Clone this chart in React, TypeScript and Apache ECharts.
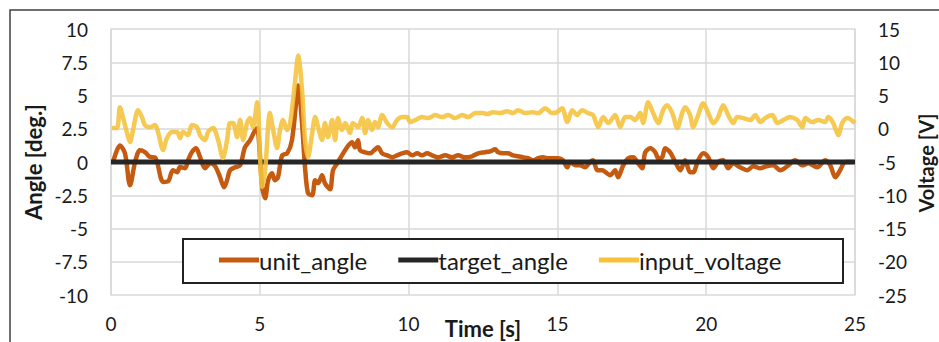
import React, { useEffect, useRef } from "react";
import * as echarts from "echarts";

const timeTicks = [0, 5, 10, 15, 20, 25];

const angleTime = [
  0.07, 0.3, 0.47, 0.64, 0.81, 0.97, 1.14, 1.31, 1.48, 1.75, 1.92, 2.08, 2.22, 2.32, 2.49, 2.59, 2.72, 2.86, 2.99,
  3.16, 3.33, 3.5, 3.66, 3.8, 3.9, 4.0, 4.17, 4.34, 4.5, 4.67, 4.84, 4.91, 5.08, 5.18, 5.28, 5.41, 5.51, 5.61, 5.75,
  5.92, 6.08, 6.25, 6.29, 6.42, 6.52, 6.62, 6.76, 6.86, 6.96, 7.09, 7.19, 7.36, 7.46, 7.6, 7.8, 7.93, 8.1, 8.2, 8.3,
  8.37, 8.54, 8.71, 8.84, 8.97, 9.11, 9.28, 9.45, 9.61, 9.78, 9.95, 10.12, 10.29, 10.45, 10.62, 10.79, 10.99, 11.23,
  11.46, 11.66, 11.9, 12.13, 12.34, 12.57, 12.74, 12.91, 13.01, 13.18, 13.34, 13.51, 13.68, 13.85, 14.02, 14.18,
  14.35, 14.52, 14.69, 14.86, 15.03, 15.19, 15.33, 15.43, 15.6, 15.76, 15.93, 16.1, 16.2, 16.34, 16.5, 16.67, 16.77,
  16.94, 17.04, 17.21, 17.38, 17.55, 17.71, 17.85, 17.95, 18.12, 18.29, 18.39, 18.52, 18.62, 18.79, 18.96, 19.13,
  19.29, 19.46, 19.56, 19.73, 19.9, 20.07, 20.24, 20.4, 20.57, 20.74, 20.91, 21.14, 21.38, 21.58, 21.82, 22.02,
  22.25, 22.49, 22.72, 22.99, 23.23, 23.43, 23.73, 24.0, 24.17, 24.34, 24.5, 24.67, 24.94,
];
const unitAngle = [
  0, 1.25, 0.65, -1.75, 0, 0.88, 0.75, 0.38, 0.35, -1.5, -1.45, -0.62, -0.77, -0.38, -0.47, 0.13, 0.75, 1.03, 0.38,
  -0.47, -0.1, -0.32, -1.12, -1.9, -1.37, -0.62, -0.4, -0.25, 1.1, 1.63, 2.38, 2.53, -1.9, -2.72, -1.37, -0.85, -1.37,
  -1.15, 0.5, 0.65, 1.63, 5.15, 5.75, 2.9, -0.4, -2.35, -2.5, -1.37, -1.6, -1.0, -1.6, -2.05, -0.62, -0.1, 0.65, 1.1,
  1.48, 1.1, 1.63, 0.88, 0.73, 0.65, 0.88, 1.1, 0.65, 0.5, 0.35, 0.5, 0.65, 0.73, 0.5, 0.65, 0.5, 0.65, 0.5, 0.35,
  0.5, 0.35, 0.5, 0.35, 0.43, 0.65, 0.73, 0.8, 0.95, 0.73, 0.65, 0.65, 0.5, 0.43, 0.35, 0.28, 0.13, 0.28, 0.35, 0.28,
  0.28, 0.28, 0.13, -0.4, 0, -0.25, -0.25, -0.4, 0, 0.13, -0.62, -0.62, -0.85, -1.0, -0.62, -1.15, -0.25, 0.28, 0.35,
  -0.1, -0.47, 0.73, 1.03, 0.73, 0.28, 0.35, 1.03, 0.73, 0, -0.62, 0.13, -0.77, -0.77, 0.13, 0.65, 0.35, -0.47, 0,
  0.13, -0.47, -0.1, -0.4, -0.62, -0.32, -0.47, -0.32, -0.25, -0.62, -0.32, 0.13, -0.25, -0.1, -0.4, 0.13, -0.25,
  -1.15, -0.62, 0, 0,
];

const targetTime = [0, 25];
const targetAngle = [0, 0];

const voltTime = [
  0.03, 0.2, 0.3, 0.4, 0.54, 0.64, 0.74, 0.91, 1.04, 1.14, 1.31, 1.48, 1.58, 1.75, 1.88, 2.05, 2.22, 2.32, 2.42, 2.59,
  2.72, 2.89, 2.99, 3.16, 3.26, 3.43, 3.6, 3.76, 3.9, 4.0, 4.1, 4.24, 4.34, 4.44, 4.57, 4.67, 4.77, 4.91, 5.01, 5.08,
  5.18, 5.34, 5.45, 5.58, 5.68, 5.78, 5.92, 6.02, 6.18, 6.29, 6.42, 6.52, 6.62, 6.76, 6.86, 6.96, 7.09, 7.19, 7.29,
  7.43, 7.53, 7.63, 7.76, 7.87, 8.03, 8.13, 8.3, 8.44, 8.54, 8.64, 8.77, 8.87, 8.97, 9.11, 9.28, 9.45, 9.61, 9.78,
  9.95, 10.05, 10.22, 10.45, 10.66, 10.89, 11.13, 11.33, 11.56, 11.8, 12.0, 12.24, 12.5, 12.64, 12.84, 13.08, 13.31,
  13.51, 13.68, 13.92, 14.15, 14.35, 14.59, 14.82, 14.99, 15.16, 15.33, 15.5, 15.66, 15.83, 16.03, 16.2, 16.37,
  16.54, 16.71, 16.94, 17.11, 17.28, 17.45, 17.61, 17.78, 17.88, 18.05, 18.22, 18.39, 18.55, 18.69, 18.86, 19.03,
  19.19, 19.29, 19.46, 19.56, 19.73, 19.9, 20.07, 20.24, 20.4, 20.57, 20.74, 20.91, 21.04, 21.24, 21.48, 21.65,
  21.82, 21.98, 22.22, 22.39, 22.59, 22.82, 23.06, 23.23, 23.33, 23.56, 23.76, 24.0, 24.1, 24.27, 24.44, 24.57,
  24.74, 25.0,
];
const inputVoltage = [
  0.1, 0.1, 3.25, 1.75, -0.65, -2.0, -0.2, 2.8, 1.75, 0.55, 0.25, 0.55, -0.5, -3.2, -1.4, -0.5, -0.5, -1.4, -0.5,
  -0.95, 0.55, 0.25, -0.95, -1.7, -0.5, 0.1, -1.7, -4.4, -1.7, 0.85, 0.85, -1.25, 1.3, -1.7, 0.85, 1.6, 0.25, 4.0,
  -4.25, -8.75, -6.2, 2.35, -0.2, -2.9, -0.2, 1.3, -0.2, 0.85, 6.85, 11.0, 5.8, -1.7, -4.25, -0.65, 1.75, 0.25, -1.7,
  0.85, -1.25, 1.3, -1.7, 1.6, -0.2, 0.85, -0.65, 0.85, 0.25, 1.6, -0.65, 1.3, -0.2, 1.0, 0.25, 2.05, 0.85, 0.25,
  1.3, 1.75, 1.75, 1.0, 1.3, 1.75, 1.6, 2.05, 1.75, 2.05, 1.6, 2.05, 1.75, 2.35, 2.35, 2.2, 2.5, 2.35, 2.65, 2.35,
  2.8, 2.35, 2.5, 2.35, 3.1, 2.35, 2.5, 3.1, 1.0, 2.8, 2.05, 2.8, 2.35, 2.05, 0.25, 1.75, 0.85, 2.05, 0.25, 1.75,
  1.75, 1.3, 2.35, 0.85, 4.0, 2.35, 0.85, 2.8, 3.55, 2.35, 0.1, 2.35, 3.25, 2.05, 0.25, 2.05, 3.85, 2.35, 0.85, 1.75,
  3.55, 2.05, 0.85, 1.75, 1.6, 1.3, 2.05, 1.0, 1.6, 2.05, 0.85, 1.3, 1.75, 1.3, 0.25, 1.6, 1.0, 1.3, 1.0, 1.75, 0.85,
  -0.95, 0.85, 1.6, 0.85,
];

const FONT = "Lato, 'Open Sans', sans-serif";

function pairs(t: number[], v: number[]) {
  return t.map((x, i) => [x, v[i]]);
}

export default function App() {
  const ref = useRef<HTMLDivElement>(null);
  useEffect(() => {
    if (!ref.current) return;
    const chart = echarts.init(ref.current, undefined, { renderer: "svg" });
    const grid = "#d9d9d9";
    chart.setOption({
      animation: false,
      backgroundColor: "#ffffff",
      grid: { left: 111, right: 84, top: 29, bottom: 47, containLabel: false },
      xAxis: {
        type: "value",
        min: timeTicks[0],
        max: timeTicks[timeTicks.length - 1],
        interval: 5,
        axisLine: { show: true, lineStyle: { color: grid, width: 1.5 } },
        axisTick: { show: false },
        splitLine: { show: true, lineStyle: { color: grid, width: 1.5 } },
        axisLabel: { fontFamily: FONT, fontSize: 19, color: "#1a1a1a", margin: 19 },
      },
      yAxis: [
        {
          type: "value",
          min: -10,
          max: 10,
          interval: 2.5,
          position: "left",
          axisLine: { show: true, lineStyle: { color: grid, width: 1.5 } },
          axisTick: { show: false },
          splitLine: { show: true, lineStyle: { color: grid, width: 1.5 } },
          axisLabel: { fontFamily: FONT, fontSize: 19, color: "#1a1a1a", margin: 23 },
        },
        {
          type: "value",
          min: -25,
          max: 15,
          interval: 5,
          position: "right",
          axisLine: { show: true, lineStyle: { color: grid, width: 1.5 } },
          axisTick: { show: false },
          splitLine: { show: false },
          axisLabel: { fontFamily: FONT, fontSize: 19, color: "#1a1a1a", margin: 23 },
        },
      ],
      legend: {
        left: 214,
        top: 243,
        z: 30,
        itemWidth: 40,
        itemHeight: 5,
        itemGap: 31,
        icon: "rect",
        textStyle: { fontFamily: FONT, fontSize: 24, color: "#1a1a1a", padding: [0, 0, 0, -5] },
        data: ["unit_angle", "target_angle", "input_voltage"],
      },
      graphic: [
        {
          type: "rect",
          shape: { x: 10, y: 10, width: 1000, height: 400 },
          style: { fill: "none", stroke: "#404040", lineWidth: 1.5 },
          silent: true,
        },
        {
          type: "rect",
          shape: { x: 183, y: 239, width: 660, height: 44 },
          style: { fill: "#ffffff", stroke: "#222", lineWidth: 2 },
          z: 6,
          silent: true,
        },
        {
          type: "text",
          x: 33,
          y: 162,
          rotation: Math.PI / 2,
          style: {
            text: "Angle [deg.]",
            fontFamily: FONT,
            fontSize: 22,
            fontWeight: "bold",
            fill: "#1a1a1a",
            align: "center",
            verticalAlign: "middle",
          },
        },
        {
          type: "text",
          x: 926,
          y: 163,
          rotation: Math.PI / 2,
          style: {
            text: "Voltage [V]",
            fontFamily: FONT,
            fontSize: 20,
            fontWeight: "bold",
            fill: "#1a1a1a",
            align: "center",
            verticalAlign: "middle",
          },
        },
        {
          type: "text",
          x: 483,
          y: 328,
          style: {
            text: "Time [s]",
            fontFamily: FONT,
            fontSize: 22,
            fontWeight: "bold",
            fill: "#1a1a1a",
            align: "center",
            verticalAlign: "middle",
          },
        },
      ],
      series: [
        {
          name: "unit_angle",
          type: "line",
          yAxisIndex: 0,
          data: pairs(angleTime, unitAngle),
          showSymbol: false,
          smooth: 0.3,
          color: "#C55A11",
          lineStyle: { color: "#C55A11", width: 4.5 },
          z: 2,
        },
        {
          name: "target_angle",
          type: "line",
          yAxisIndex: 0,
          data: pairs(targetTime, targetAngle),
          showSymbol: false,
          color: "#262626",
          lineStyle: { color: "#262626", width: 5 },
          z: 3,
        },
        {
          name: "input_voltage",
          type: "line",
          yAxisIndex: 1,
          data: pairs(voltTime, inputVoltage),
          showSymbol: false,
          smooth: 0.3,
          color: "#F5C23A",
          lineStyle: { color: "#F5C23A", width: 4.5, opacity: 0.88 },
          z: 4,
        },
      ],
    });
    return () => chart.dispose();
  }, []);
  return <div ref={ref} style={{ width: 939, height: 342, position: "absolute", left: 0, top: 0 }} />;
}
